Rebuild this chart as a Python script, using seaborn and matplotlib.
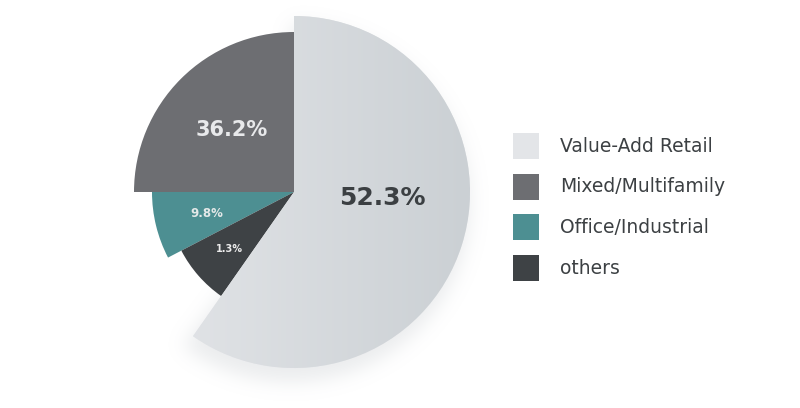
import numpy as np
import matplotlib
matplotlib.use("Agg")
import matplotlib.pyplot as plt
from matplotlib.patches import Wedge, Rectangle
from matplotlib.colors import to_rgb
import seaborn as sns

# ---- data ----
categories = ["Value-Add Retail", "Mixed/Multifamily", "Office/Industrial", "others"]
pct_labels = ["52.3%", "36.2%", "9.8%", "1.3%"]
sweep_deg = [215.0, 90.0, 27.5, 27.5]       # angular share
radius_px = [176, 160, 142, 127]             # slice radii
colors = ["#e3e5e8", "#6d6e72", "#4d8f92", "#3e4245"]

# ---- layout ----
W, H = 800, 408
cx, cy = 294, H - 192
label_angle = [-4.0, None, None, None]   # None -> mid angle
label_dist = [89, 88, 90, 86]
label_size = [18, 15, 8.5, 7]
label_color = ["#3b3f42", "#e8e9eb", "#e3e8e8", "#ececec"]

sns.set_theme(style="white")
plt.rcParams["font.family"] = ["DejaVu Sans"]

fig = plt.figure(figsize=(W / 100, H / 100), dpi=100)
ax = fig.add_axes([0, 0, 1, 1])
ax.set_xlim(0, W)
ax.set_ylim(0, H)
ax.set_aspect("equal")
ax.axis("off")

# angles (counterclockwise), Value-Add ends at 12 o'clock
t0 = 90 - sweep_deg[0]
starts = list(np.cumsum([t0] + sweep_deg[:-1]))
ends = [s + w for s, w in zip(starts, sweep_deg)]

# ---- soft shadow under the large slice ----
yy, xx = np.mgrid[0:H, 0:W] + 0.5
sx, sy = xx - (cx - 3), yy - (cy - 11)
ang = np.degrees(np.arctan2(sy, sx))
rr = np.hypot(sx, sy)
mask = ((rr <= radius_px[0] + 3) & (ang >= starts[0] - 2) & (ang <= ends[0])).astype(float)
sig = 9
k = np.arange(-3 * sig, 3 * sig + 1)
g = np.exp(-k ** 2 / (2 * sig ** 2)); g /= g.sum()
blur = np.apply_along_axis(lambda r: np.convolve(r, g, mode="same"), 1, mask)
blur = np.apply_along_axis(lambda c: np.convolve(c, g, mode="same"), 0, blur)
shadow = np.zeros((H, W, 4))
shadow[..., :3] = to_rgb("#b8bdc2")
shadow[..., 3] = blur * 0.28
ax.imshow(shadow, extent=[0, W, 0, H], origin="lower", zorder=1, interpolation="bilinear")

# ---- slices ----
for i, (s, e, r, c) in enumerate(zip(starts, ends, radius_px, colors)):
    w = Wedge((cx, cy), r, s, e, facecolor=c, edgecolor="none", zorder=3)
    ax.add_patch(w)
    if i == 0:
        # horizontal gradient fill for the large slice
        grad = np.linspace(0, 1, 256)[None, :]
        c1, c2 = np.array(to_rgb("#e5e7ea")), np.array(to_rgb("#cbd0d4"))
        img = c1[None, None, :] * (1 - grad[..., None]) + c2[None, None, :] * grad[..., None]
        im = ax.imshow(img, extent=[cx - r, cx + r, cy - r, cy + r], origin="lower",
                       zorder=3.5, interpolation="bilinear", aspect="auto")
        im.set_clip_path(w)
ax.set_xlim(0, W)
ax.set_ylim(0, H)

# ---- slice labels ----
for i in range(len(categories)):
    a = label_angle[i] if label_angle[i] is not None else (starts[i] + ends[i]) / 2
    x = cx + label_dist[i] * np.cos(np.radians(a))
    y = cy + label_dist[i] * np.sin(np.radians(a))
    ax.text(x, y, pct_labels[i], ha="center", va="center", fontsize=label_size[i],
            fontweight="bold", color=label_color[i], zorder=5)

# ---- legend ----
leg_x, leg_y0, leg_dy, box = 513, H - 146, 40.7, 26
for i, (name, c) in enumerate(zip(categories, colors)):
    y = leg_y0 - i * leg_dy
    ax.add_patch(Rectangle((leg_x, y - box / 2), box, box, facecolor=c, edgecolor="none", zorder=5))
    ax.text(leg_x + 47, y, name, ha="left", va="center", fontsize=13.5,
            color="#3c4043", zorder=5)

fig.savefig("out.png", dpi=100, facecolor="white")
